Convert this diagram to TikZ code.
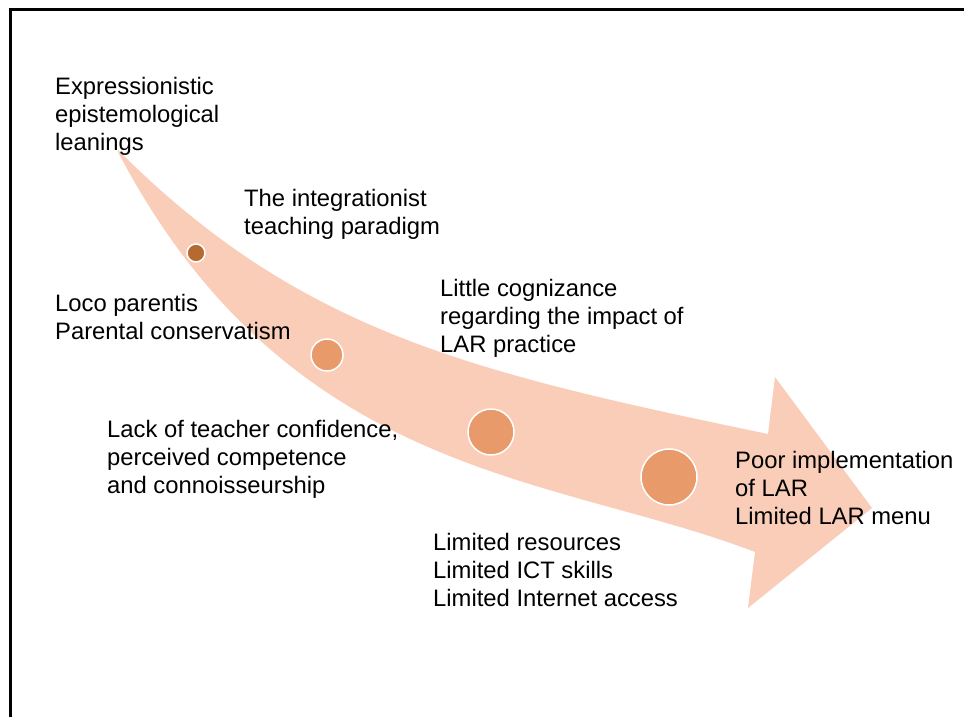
\documentclass[tikz,border=0pt]{standalone}
\usepackage{fontspec}
\setmainfont{Liberation Sans}
\usepackage{tikz}
\definecolor{ArrowPeach}{RGB}{249,205,184}
\definecolor{DotOrange}{RGB}{232,154,107}
\definecolor{DotBrown}{RGB}{181,106,48}
\tikzset{
  lbl/.style  ={anchor=north west, align=left, inner sep=0pt,
                font=\fontsize{23.8}{28}\selectfont},
  dot/.style  ={circle, draw=white, line width=1.5pt, fill=DotOrange, inner sep=0pt},
  frame/.style={line width=3pt, draw=black},
}

\begin{document}
\begin{tikzpicture}[x=1pt,y=-1pt]
  \clip (0,0) rectangle (964,716);
  \draw[frame] (10,740) |- (990,9);
  % curved arrow
  \fill[ArrowPeach] (118,150) .. controls (300,332) and (470,372) .. (768,434)
    -- (775,377) -- (872,508) -- (748,608) -- (755,552)
    .. controls (555,475) and (290,480) .. (118,152) -- cycle;
  \node[dot,fill=DotBrown,minimum size=18pt] (p1) at (196,253) {};
  \node[dot,minimum size=32pt] (p2) at (327,355) {};
  \node[dot,minimum size=46pt] (p3) at (491,432) {};
  \node[dot,minimum size=56pt] (p4) at (669,477) {};
  \node[lbl] (t1) at (55,77)  {Expressionistic\\epistemological\\leanings};
  \node[lbl] (t2) at (244,189) {The integrationist\\teaching paradigm};
  \node[lbl] (t3) at (440,279) {Little cognizance\\regarding the impact of\\LAR practice};
  \node[lbl] (t4) at (55,294) {Loco parentis\\Parental conservatism};
  \node[lbl] (t5) at (107,420) {Lack of teacher confidence,\\perceived competence\\and connoisseurship};
  \node[lbl] (t6) at (433,533) {Limited resources\\Limited ICT skills\\Limited Internet access};
  \node[lbl] (t7) at (735,451) {Poor implementation\\of LAR\\Limited LAR menu};
\end{tikzpicture}
\end{document}
